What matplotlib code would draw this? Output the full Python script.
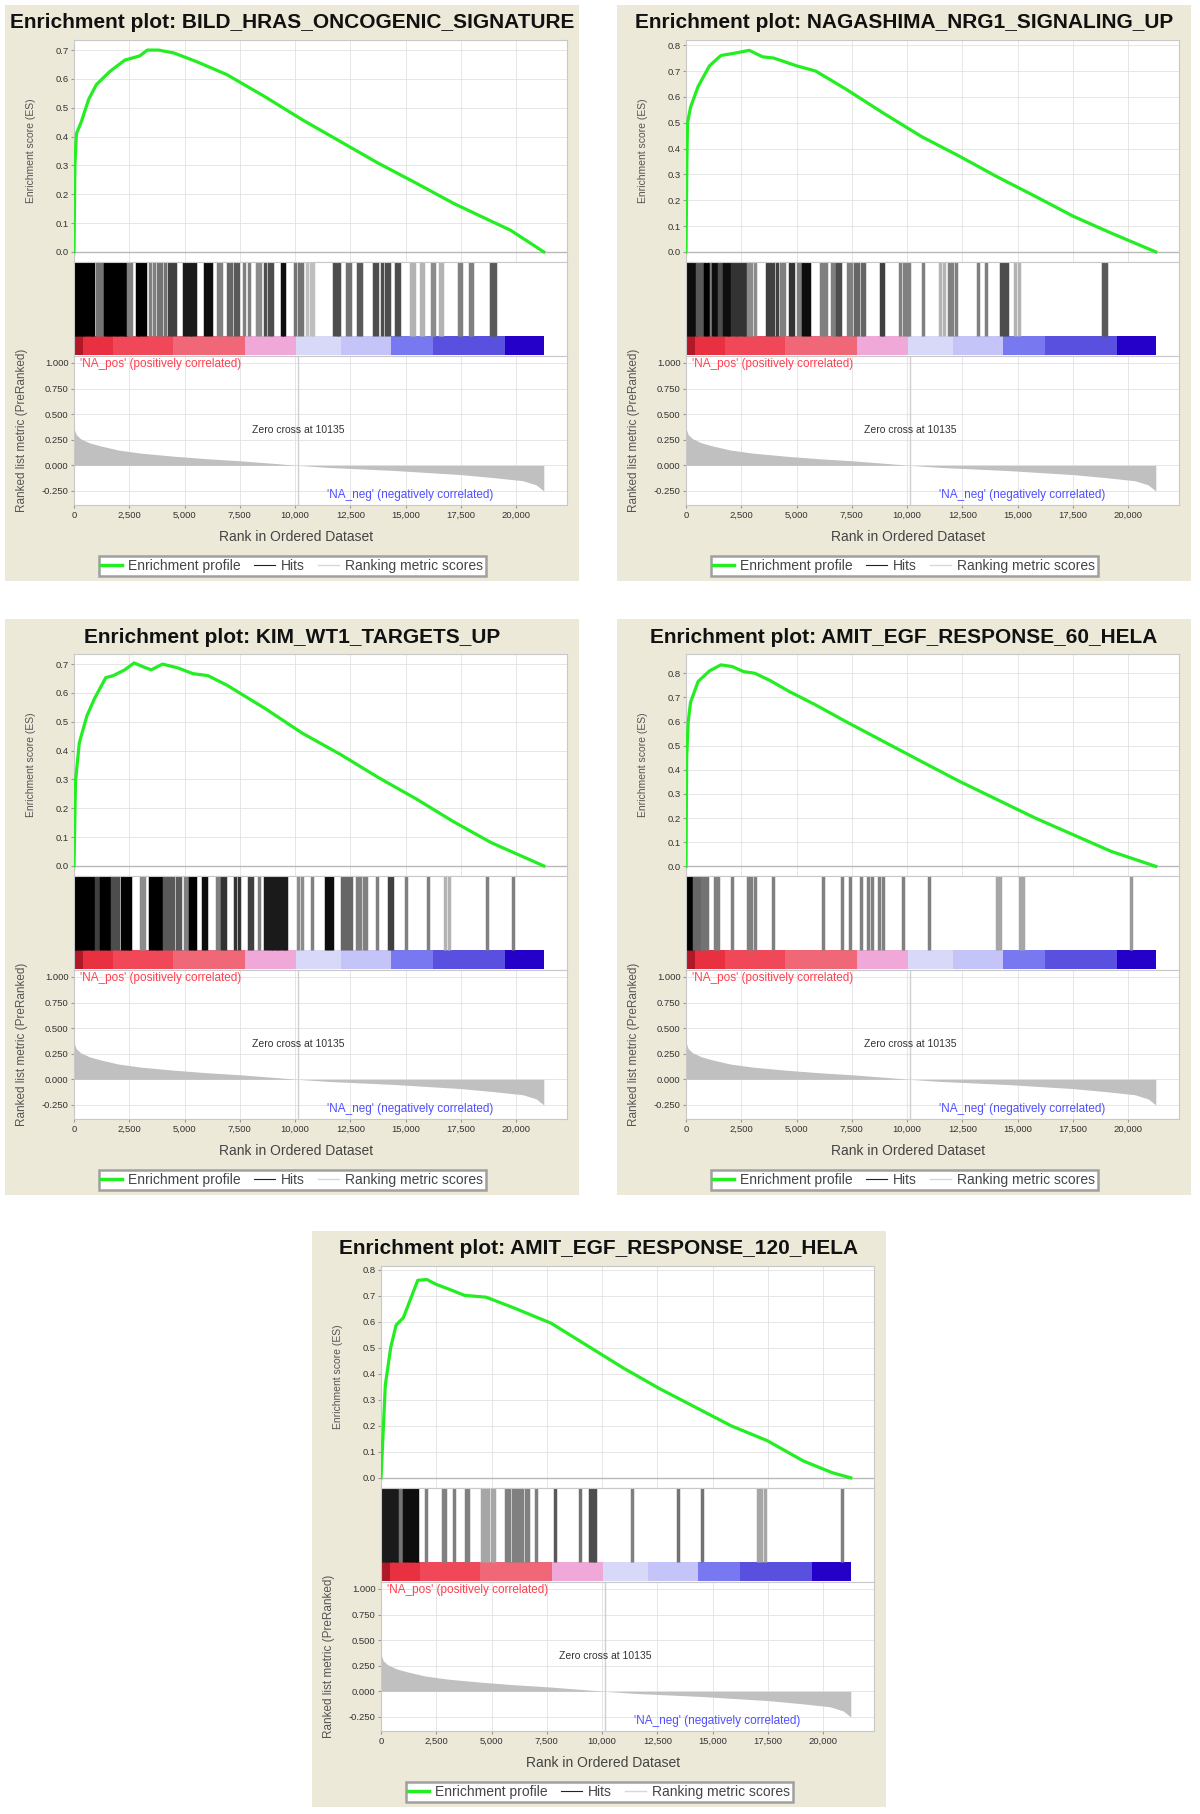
import matplotlib
matplotlib.use('Agg')
import matplotlib.pyplot as plt
from matplotlib.patches import Rectangle
from matplotlib.lines import Line2D

plt.rcParams['font.family'] = ['Liberation Sans', 'DejaVu Sans']

# ---------------- data ----------------
N_GENES = 21250
ZERO_CROSS = 10135
X_MAX = 22300

titles = [
    "Enrichment plot: BILD_HRAS_ONCOGENIC_SIGNATURE",
    "Enrichment plot: NAGASHIMA_NRG1_SIGNALING_UP",
    "Enrichment plot: KIM_WT1_TARGETS_UP",
    "Enrichment plot: AMIT_EGF_RESPONSE_60_HELA",
    "Enrichment plot: AMIT_EGF_RESPONSE_120_HELA",
]

es_ticks_1 = [0.0, 0.1, 0.2, 0.3, 0.4, 0.5, 0.6, 0.7]
es_ticks_2 = [0.0, 0.1, 0.2, 0.3, 0.4, 0.5, 0.6, 0.7, 0.8]
es_ylim_1 = (-0.035, 0.735)
es_ylim_2 = (-0.039, 0.82)
es_ylim_3 = (-0.035, 0.735)
es_ylim_4 = (-0.04, 0.88)
es_ylim_5 = (-0.039, 0.815)

es_ranks_1 = [0, 40, 110, 325, 667, 1010, 1608, 2293, 2977, 3319, 3833, 4517, 5544, 6912,
              8623, 10334, 12045, 13756, 15466, 17178, 18889, 19750, 21250]
es_vals_1 = [0.0, 0.30, 0.41, 0.45, 0.53, 0.58, 0.625, 0.665, 0.68, 0.70, 0.70, 0.69, 0.66, 0.615,
             0.539, 0.458, 0.383, 0.308, 0.239, 0.168, 0.106, 0.075, 0.0]

es_ranks_2 = [0, 40, 69, 206, 548, 1063, 1577, 2262, 2862, 3462, 3976, 5005, 5862, 7233,
              8947, 10661, 12375, 14089, 15803, 17517, 19231, 21250]
es_vals_2 = [0.0, 0.35, 0.50, 0.56, 0.64, 0.72, 0.76, 0.77, 0.78, 0.755, 0.75, 0.72, 0.70, 0.63,
             0.536, 0.446, 0.37, 0.29, 0.215, 0.138, 0.073, 0.0]

es_ranks_3 = [0, 68, 240, 582, 924, 1437, 1779, 2293, 2720, 3148, 3490, 4004, 4688, 5373, 6057,
              6912, 8623, 10334, 12045, 13756, 15466, 17177, 18889, 21250]
es_vals_3 = [0.0, 0.293, 0.427, 0.52, 0.58, 0.653, 0.66, 0.68, 0.704, 0.69, 0.68, 0.70, 0.687,
             0.667, 0.66, 0.627, 0.547, 0.46, 0.387, 0.307, 0.233, 0.153, 0.08, 0.0]

es_ranks_4 = [0, 30, 100, 206, 548, 1063, 1577, 2091, 2605, 3119, 3805, 4662, 5862, 7233,
              8947, 10661, 12375, 14089, 15803, 17517, 19231, 21250]
es_vals_4 = [0.0, 0.45, 0.60, 0.68, 0.766, 0.81, 0.835, 0.828, 0.807, 0.80, 0.77, 0.725, 0.669,
             0.60, 0.517, 0.434, 0.352, 0.276, 0.20, 0.131, 0.062, 0.0]

es_ranks_5 = [0, 65, 196, 440, 685, 1011, 1337, 1663, 2070, 2478, 3130, 3782, 4760, 6064, 7694,
              9324, 10954, 12584, 14214, 15844, 17474, 19104, 20408, 21250]
es_vals_5 = [0.0, 0.115, 0.358, 0.502, 0.588, 0.616, 0.688, 0.76, 0.763, 0.745, 0.724, 0.702,
             0.695, 0.652, 0.595, 0.509, 0.423, 0.344, 0.272, 0.20, 0.143, 0.065, 0.02, 0.0]

hit_ranks_1 = [30, 150, 270, 390, 510, 630, 750, 870, 1050, 1170, 1290, 1410, 1530, 1650, 1770,
               1890, 2010, 2130, 2250, 2350, 2450, 2570, 2830, 2950, 3070, 3190, 3450, 3600,
               3800, 3950, 4100, 4300, 4450, 4560, 4990, 5110, 5230, 5350, 5480, 5920, 6050,
               6180, 6500, 6650, 6950, 7100, 7300, 7400, 7700, 7900, 8300, 8400, 8650, 8800,
               8950, 9420, 9500, 10000, 10200, 10300, 10550, 10700, 10800, 11750, 11900, 12000,
               12350, 12500, 12850, 13000, 13550, 13700, 13950, 14100, 14250, 14550, 14700,
               15250, 15400, 15700, 15800, 16200, 16300, 16550, 16650, 17400, 17500, 17900,
               18000, 18850, 18950, 19050]
hit_shades_1 = [0, 0, 0, 0, 0, 0, 0, 0, .45, .45, .45, 0, 0, 0, 0,
                0, 0, 0, 0, 0, .5, .5, 0, 0, 0, 0, .5, .5,
                .45, .45, .45, .25, .25, .25, .1, .1, .1, .1, .1, .05, .05,
                .05, .5, .5, .4, .4, .35, .35, .5, .5, .55, .55, .3, .3,
                .3, .05, .05, .45, .45, .45, .75, .75, .75, .3, .3, .3,
                .45, .45, .35, .35, .3, .3, .3, .3, .3, .3, .3,
                .7, .7, .7, .7, .55, .55, .7, .7, .5, .5, .5,
                .5, .35, .35, .35]

hit_ranks_2 = [40, 160, 280, 400, 520, 640, 760, 880, 1000, 1120, 1240, 1360, 1480, 1600, 1720,
               1840, 1960, 2080, 2200, 2320, 2440, 2560, 2680, 2800, 2950, 3100, 3680, 3800,
               3950, 4100, 4300, 4450, 4700, 4850, 5050, 5150, 5300, 5450, 5550, 6100, 6250,
               6350, 6600, 6700, 6850, 6950, 7350, 7450, 7650, 7800, 7950, 8050, 8800, 8900,
               9700, 9850, 10000, 10100, 10700, 11500, 11650, 11900, 12050, 12200, 13200,
               13550, 14250, 14400, 14500, 14900, 15050, 18850, 19000]
hit_shades_2 = [.05, .05, .05, .05, .35, .35, .35, 0, 0, .5, .05, .05, .3, .3, .05,
                .05, .05, .2, .2, .2, .2, .2, .2, .55, .55, .55, .25, .25,
                .25, .25, .5, .5, .2, .2, .5, .5, .05, .05, .05, .5, .5,
                .5, .5, .5, .3, .3, .5, .5, .4, .4, .4, .4, .25, .25,
                .5, .5, .5, .5, .5, .7, .7, .5, .5, .5, .5,
                .5, .3, .3, .3, .7, .7, .35, .35]

hit_ranks_3 = [30, 150, 270, 390, 510, 630, 750, 870, 1000, 1120, 1240, 1360, 1480, 1580, 1700,
               1850, 2000, 2180, 2300, 2420, 2540, 3050, 3150, 3450, 3570, 3690, 3810, 3930,
               4050, 4200, 4350, 4500, 4650, 4800, 5000, 5100, 5250, 5370, 5490, 5850, 5970,
               6450, 6550, 6700, 6850, 7300, 7450, 7900, 8050, 8350, 8650, 8770, 8890, 9010,
               9130, 9250, 9370, 9490, 9600, 10150, 10300, 10750, 11400, 11520, 11650, 12100,
               12250, 12400, 12550, 12800, 12950, 13100, 13200, 13700, 14250, 14400, 15000,
               16000, 16800, 16950, 18700, 19850]
hit_shades_3 = [0, 0, 0, 0, 0, 0, 0, 0, .25, .25, 0, 0, 0, 0, .3,
                .3, .3, 0, 0, 0, 0, .55, .55, 0, 0, 0, 0, 0,
                .35, .35, .35, .35, .35, .35, .5, .5, 0, 0, 0, .05, .05,
                .5, .5, .2, .2, .2, .2, .25, .25, .5, .1, .1, .1, .1,
                .1, .1, .1, .1, .1, .55, .55, .5, .05, .05, .05, .4,
                .4, .4, .4, .5, .5, .5, .5, .5, .25, .25, .5,
                .5, .7, .7, .5, .5]

hit_ranks_4 = [40, 160, 260, 350, 470, 590, 710, 830, 950, 1300, 1450, 2100, 2800, 2950, 3100,
               3950, 6200, 7050, 7400, 7900, 8250, 8400, 8750, 8900, 9800, 11000, 14050, 14200,
               15100, 15250, 20150]
hit_shades_4 = [0, 0, 0, .4, .4, .4, .45, .45, .45, .5, .5, .5, .5, .5, .5,
                .5, .5, .5, .5, .5, .5, .5, .5, .5, .5, .5, .65, .65,
                .65, .65, .6]

hit_ranks_5 = [40, 160, 280, 400, 520, 640, 740, 850, 950, 1050, 1170, 1290, 1410, 1530, 1630,
               2050, 2800, 2900, 3280, 3850, 3950, 4550, 4700, 4850, 5000, 5100, 5650, 5800,
               5950, 6100, 6250, 6400, 6550, 6650, 7000, 7850, 9000, 9450, 9600, 9700, 11350,
               13450, 14500, 17050, 17200, 17350, 20850]
hit_shades_5 = [.1, .1, .1, .1, .1, .1, .1, .45, .45, .05, .05, .05, .05, .05, .05,
                .5, .5, .5, .5, .5, .5, .65, .65, .65, .65, .65, .5, .5,
                .5, .5, .5, .5, .5, .5, .5, .35, .45, .3, .3, .3, .5,
                .45, .45, .65, .65, .65, .5]

metric_ranks = [0, 100, 300, 700, 1200, 2000, 3000, 4500, 6000, 7500, 9000, 10135, 11500, 13000,
                14500, 16000, 17500, 19000, 20300, 20900, 21250]
metric_vals = [0.36, 0.30, 0.26, 0.22, 0.19, 0.15, 0.12, 0.09, 0.065, 0.045, 0.02, 0.0, -0.02,
               -0.035, -0.05, -0.07, -0.09, -0.12, -0.15, -0.19, -0.25]

cbar_bounds = [0, 400, 1760, 4480, 7730, 10040, 12080, 14340, 16240, 19500, 21250]
cbar_colors = ['#b01828', '#e83040', '#f04858', '#f06878', '#f0a8d8', '#d8d8f8', '#c4c4f8',
               '#7878f0', '#5a50e0', '#2400c8']

x_ticks = [0, 2500, 5000, 7500, 10000, 12500, 15000, 17500, 20000]
x_ticklabels = ['0', '2,500', '5,000', '7,500', '10,000', '12,500', '15,000', '17,500', '20,000']
rank_ticks = [1.0, 0.75, 0.5, 0.25, 0.0, -0.25]
rank_ticklabels = ['1.000', '0.750', '0.500', '0.250', '0.000', '-0.250']

panels = [
    dict(title=titles[0], origin=(5, 5), es_r=es_ranks_1, es_v=es_vals_1, ylim=es_ylim_1,
         yticks=es_ticks_1, hits=hit_ranks_1, shades=hit_shades_1),
    dict(title=titles[1], origin=(617, 5), es_r=es_ranks_2, es_v=es_vals_2, ylim=es_ylim_2,
         yticks=es_ticks_2, hits=hit_ranks_2, shades=hit_shades_2),
    dict(title=titles[2], origin=(5, 619), es_r=es_ranks_3, es_v=es_vals_3, ylim=es_ylim_3,
         yticks=es_ticks_1, hits=hit_ranks_3, shades=hit_shades_3),
    dict(title=titles[3], origin=(617, 619), es_r=es_ranks_4, es_v=es_vals_4, ylim=es_ylim_4,
         yticks=es_ticks_2, hits=hit_ranks_4, shades=hit_shades_4),
    dict(title=titles[4], origin=(312, 1231), es_r=es_ranks_5, es_v=es_vals_5, ylim=es_ylim_5,
         yticks=es_ticks_2, hits=hit_ranks_5, shades=hit_shades_5),
]

# ---------------- layout ----------------
FIG_W, FIG_H = 1200, 1814
PW, PH = 574, 576
BEIGE = '#ECE9D8'
GRID = '#e2e2e2'
SPINE = '#c8c8c8'
TXT = '#333333'

fig = plt.figure(figsize=(FIG_W / 100, FIG_H / 100), dpi=100)
fig.patch.set_facecolor('white')


def frac(x, y, w, h):
    return [x / FIG_W, 1 - (y + h) / FIG_H, w / FIG_W, h / FIG_H]


def style_axes(ax):
    for s in ax.spines.values():
        s.set_color(SPINE)
        s.set_linewidth(0.8)
    ax.tick_params(length=2, color='#999999', labelsize=6.8, labelcolor=TXT, pad=2)


AX_X, AX_W = 69, 493
ES_Y, ES_H = 35, 222
HIT_Y, HIT_H = 257, 94
RK_Y, RK_H = 351, 149

for p in panels:
    ox, oy = p['origin']
    bg = Rectangle((ox / FIG_W, 1 - (oy + PH) / FIG_H), PW / FIG_W, PH / FIG_H,
                   transform=fig.transFigure, facecolor=BEIGE, edgecolor='none', zorder=-10)
    fig.add_artist(bg)

    t = fig.text((ox + PW / 2) / FIG_W, 1 - (oy + 18) / FIG_H, p['title'],
                 ha='center', va='center', fontsize=15, fontweight='bold', color='#111111')
    t.set_clip_path(bg)

    # ES plot
    ax1 = fig.add_axes(frac(ox + AX_X, oy + ES_Y, AX_W, ES_H))
    style_axes(ax1)
    ax1.set_xlim(0, X_MAX)
    ax1.set_ylim(*p['ylim'])
    ax1.set_xticks(x_ticks)
    ax1.set_xticklabels([])
    ax1.tick_params(axis='x', length=0)
    ax1.set_yticks(p['yticks'])
    ax1.set_yticklabels([f'{v:.1f}' for v in p['yticks']])
    ax1.grid(True, color=GRID, linewidth=0.6)
    ax1.set_axisbelow(True)
    ax1.axhline(0, color='#b8b8b8', linewidth=1.0, zorder=1)
    ax1.plot(p['es_r'], p['es_v'], color='#22ee22', linewidth=2.3, zorder=3,
             solid_joinstyle='round')
    ax1.set_ylabel('Enrichment score (ES)', fontsize=7.5, color='#555555')
    ax1.yaxis.set_label_coords(-0.078, 0.5)

    # hits + colour bar
    ax2 = fig.add_axes(frac(ox + AX_X, oy + HIT_Y, AX_W, HIT_H))
    style_axes(ax2)
    ax2.set_xlim(0, X_MAX)
    ax2.set_ylim(0, 1)
    ax2.set_xticks([])
    ax2.set_yticks([])
    cols = [(s, s, s) for s in p['shades']]
    ax2.vlines(p['hits'], 0.21, 1.0, colors=cols, linewidth=2.5)
    for i, c in enumerate(cbar_colors):
        ax2.add_patch(Rectangle((cbar_bounds[i], 0.01), cbar_bounds[i + 1] - cbar_bounds[i], 0.2,
                                facecolor=c, edgecolor='none'))

    # ranked list metric
    ax3 = fig.add_axes(frac(ox + AX_X, oy + RK_Y, AX_W, RK_H))
    style_axes(ax3)
    ax3.set_xlim(0, X_MAX)
    ax3.set_ylim(-0.387, 1.068)
    ax3.set_xticks(x_ticks)
    ax3.set_xticklabels(x_ticklabels)
    ax3.set_yticks(rank_ticks)
    ax3.set_yticklabels(rank_ticklabels)
    ax3.grid(True, color=GRID, linewidth=0.6)
    ax3.set_axisbelow(True)
    ax3.axvline(ZERO_CROSS, color='#d0d0d0', linewidth=1.0, zorder=1)
    ax3.fill_between(metric_ranks, metric_vals, 0, color='#c0c0c0', linewidth=0, zorder=2)
    ax3.text(250, 0.985, "'NA_pos' (positively correlated)", color='#ff4050', fontsize=8.5,
             ha='left', va='center')
    ax3.text(15200, -0.29, "'NA_neg' (negatively correlated)", color='#5050ff', fontsize=8.5,
             ha='center', va='center')
    ax3.text(ZERO_CROSS, 0.35, f'Zero cross at {ZERO_CROSS}', color=TXT, fontsize=7.5,
             ha='center', va='center')
    ax3.set_ylabel('Ranked list metric (PreRanked)', fontsize=8.5, color='#555555')
    ax3.yaxis.set_label_coords(-0.093, 0.5)
    ax3.set_xlabel('Rank in Ordered Dataset', fontsize=10, color='#444444')
    ax3.xaxis.set_label_coords(0.45, -0.17)

    handles = [Line2D([], [], color='#22ee22', linewidth=2.5),
               Line2D([], [], color='#222222', linewidth=0.8),
               Line2D([], [], color='#d8d8d8', linewidth=1.0)]
    leg = fig.legend(handles, ['Enrichment profile', 'Hits', 'Ranking metric scores'],
                     loc='center', ncol=3, fontsize=10, frameon=True, fancybox=False,
                     edgecolor='#a0a0a0', framealpha=1, borderpad=0.2,
                     handlelength=1.5, handletextpad=0.4, columnspacing=1.0,
                     bbox_to_anchor=((ox + 287) / FIG_W, 1 - (oy + 561) / FIG_H))
    leg.get_frame().set_linewidth(1.8)
    for txt in leg.get_texts():
        txt.set_color('#444444')

fig.savefig('out.png', dpi=100, facecolor='white')
